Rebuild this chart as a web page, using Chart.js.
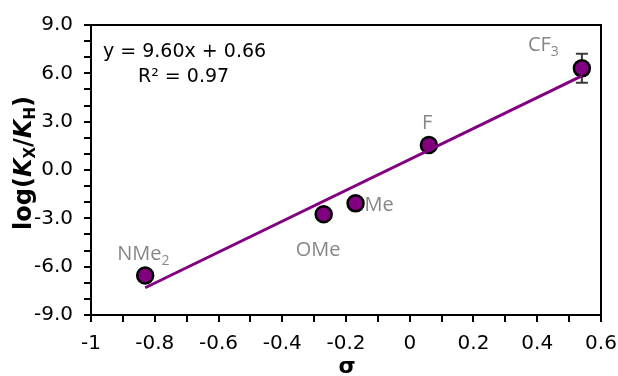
<!DOCTYPE html>
<html>
<head>
<meta charset="utf-8">
<script src="https://cdn.jsdelivr.net/npm/chart.js@4.4.1/dist/chart.umd.min.js"></script>
<style>
  html, body { margin: 0; padding: 0; background: #ffffff; }
  #wrap { width: 618px; height: 376px; position: relative; }
</style>
</head>
<body>
<div id="wrap"><canvas id="c" width="618" height="376"></canvas></div>
<script>
// ---- data ----
const categories = ['NMe', 'OMe', 'Me', 'F', 'CF'];
const categorySubscripts = ['2', '', '', '', '3'];
const sigmaValues = [-0.83, -0.27, -0.17, 0.06, 0.54];
const logKValues = [-6.55, -2.75, -2.07, 1.55, 6.31];
const errorValues = [0, 0, 0, 0, 0.9];
const trendX = [-0.83, 0.54];
const trendY = [-7.31, 5.84];
const equationText = 'y = 9.60x + 0.66';
const r2Text = 'R² = 0.97';
const xTickLabels = ['-1', '-0.8', '-0.6', '-0.4', '-0.2', '0', '0.2', '0.4', '0.6'];
const yTickLabels = ['-9.0', '-6.0', '-3.0', '0.0', '3.0', '6.0', '9.0'];

// ---- style ----
const PURPLE = '#800080';
const LABEL_GREY = '#878787';
const TICK_FONT = 'DejaVu Sans';
// label offsets relative to the marker (pixels): [dx, dy] for text left / baseline
const labelOffsets = [[-28, -16], [-28, 42], [9, 8], [-7, -16], [-54, -17]];

function drawRich(ctx, parts, x, y) {
  let cx = x;
  for (const p of parts) {
    ctx.font = p.font;
    ctx.fillText(p.t, cx, y + (p.dy || 0));
    cx += ctx.measureText(p.t).width;
  }
  return cx - x;
}
function measureRich(ctx, parts) {
  let w = 0;
  for (const p of parts) { ctx.font = p.font; w += ctx.measureText(p.t).width; }
  return w;
}

const decorPlugin = {
  id: 'decor',
  beforeDatasetsDraw(chart) {
    const ctx = chart.ctx;
    const xs = chart.scales.x, ys = chart.scales.y;
    ctx.save();
    ctx.strokeStyle = '#3a3a3a';
    ctx.lineWidth = 2;
    for (let i = 0; i < sigmaValues.length; i++) {
      if (!errorValues[i]) continue;
      const px = xs.getPixelForValue(sigmaValues[i]);
      const top = ys.getPixelForValue(logKValues[i] + errorValues[i]);
      const bot = ys.getPixelForValue(logKValues[i] - errorValues[i]);
      ctx.beginPath();
      ctx.moveTo(px, top); ctx.lineTo(px, bot);
      ctx.moveTo(px - 6, top); ctx.lineTo(px + 6, top);
      ctx.moveTo(px - 6, bot); ctx.lineTo(px + 6, bot);
      ctx.stroke();
    }
    ctx.restore();
  },
  afterDraw(chart) {
    const ctx = chart.ctx;
    const a = chart.chartArea;
    const xs = chart.scales.x, ys = chart.scales.y;
    ctx.save();
    // top and right frame
    ctx.strokeStyle = '#000';
    ctx.lineWidth = 2;
    ctx.beginPath();
    ctx.moveTo(a.left, a.top);
    ctx.lineTo(a.right, a.top);
    ctx.lineTo(a.right, a.bottom);
    ctx.stroke();

    // point labels
    ctx.fillStyle = LABEL_GREY;
    ctx.textBaseline = 'alphabetic';
    ctx.textAlign = 'left';
    for (let i = 0; i < categories.length; i++) {
      const px = xs.getPixelForValue(sigmaValues[i]);
      const py = ys.getPixelForValue(logKValues[i]);
      const parts = [{ t: categories[i], font: '20px "Open Sans"' }];
      if (categorySubscripts[i]) parts.push({ t: categorySubscripts[i], font: '14px "Open Sans"', dy: 5 });
      drawRich(ctx, parts, px + labelOffsets[i][0], py + labelOffsets[i][1]);
    }

    // equation
    ctx.fillStyle = '#000';
    ctx.font = '19px "DejaVu Sans"';
    ctx.fillText(equationText, 103, 57);
    ctx.fillText(r2Text, 138, 82);

    // y axis title
    ctx.save();
    ctx.translate(31, 163);
    ctx.rotate(-Math.PI / 2);
    const B = '"DejaVu Sans"';
    const yParts = [
      { t: 'log(', font: 'bold 24px ' + B },
      { t: 'K', font: 'italic bold 24px ' + B },
      { t: 'X', font: 'bold 15px ' + B, dy: 4 },
      { t: '/', font: 'bold 24px ' + B },
      { t: 'K', font: 'italic bold 24px ' + B },
      { t: 'H', font: 'bold 15px ' + B, dy: 4 },
      { t: ')', font: 'bold 24px ' + B }
    ];
    const w = measureRich(ctx, yParts);
    drawRich(ctx, yParts, -w / 2, 0);
    ctx.restore();

    // x axis title
    ctx.font = 'bold 22px ' + B;
    ctx.textAlign = 'center';
    ctx.fillText('σ', 347, 373);
    ctx.restore();
  }
};

new Chart(document.getElementById('c'), {
  type: 'scatter',
  data: {
    datasets: [
      {
        label: 'points',
        data: sigmaValues.map((x, i) => ({ x: x, y: logKValues[i] })),
        pointRadius: 8,
        pointHoverRadius: 8,
        backgroundColor: PURPLE,
        borderColor: '#000',
        borderWidth: 2.5,
        order: 1
      },
      {
        label: 'trend',
        type: 'line',
        data: trendX.map((x, i) => ({ x: x, y: trendY[i] })),
        borderColor: PURPLE,
        borderWidth: 3,
        pointRadius: 0,
        fill: false,
        order: 0
      }
    ]
  },
  options: {
    responsive: false,
    animation: false,
    devicePixelRatio: 1,
    layout: { padding: { left: 0, top: 25, right: 17, bottom: 0 } },
    plugins: { legend: { display: false }, tooltip: { enabled: false } },
    scales: {
      x: {
        type: 'linear',
        min: -1, max: 0.6,
        afterFit(s) { s.height = 61; s.paddingLeft = 0; s.paddingRight = 0; },
        border: { display: true, color: '#000', width: 2 },
        grid: { display: true, drawOnChartArea: false, drawTicks: true, tickLength: 7, color: '#000', lineWidth: 2 },
        ticks: {
          stepSize: 0.1,
          autoSkip: false,
          maxRotation: 0,
          color: '#000',
          padding: 10,
          font: { family: TICK_FONT, size: 20 },
          callback(v) {
            const k = Math.round(v * 10);
            if (k % 2 !== 0) return '';
            return xTickLabels[(k + 10) / 2];
          }
        }
      },
      y: {
        type: 'linear',
        min: -9, max: 9,
        afterFit(s) { s.width = 91; s.paddingTop = 0; s.paddingBottom = 0; },
        border: { display: true, color: '#000', width: 2 },
        grid: { display: true, drawOnChartArea: false, drawTicks: true, tickLength: 7, color: '#000', lineWidth: 2 },
        ticks: {
          stepSize: 1,
          autoSkip: false,
          color: '#000',
          padding: 11,
          font: { family: TICK_FONT, size: 20 },
          callback(v) {
            const k = Math.round(v);
            if (k % 3 !== 0) return '';
            return yTickLabels[(k + 9) / 3];
          }
        }
      }
    }
  },
  plugins: [decorPlugin]
});
</script>
</body>
</html>
